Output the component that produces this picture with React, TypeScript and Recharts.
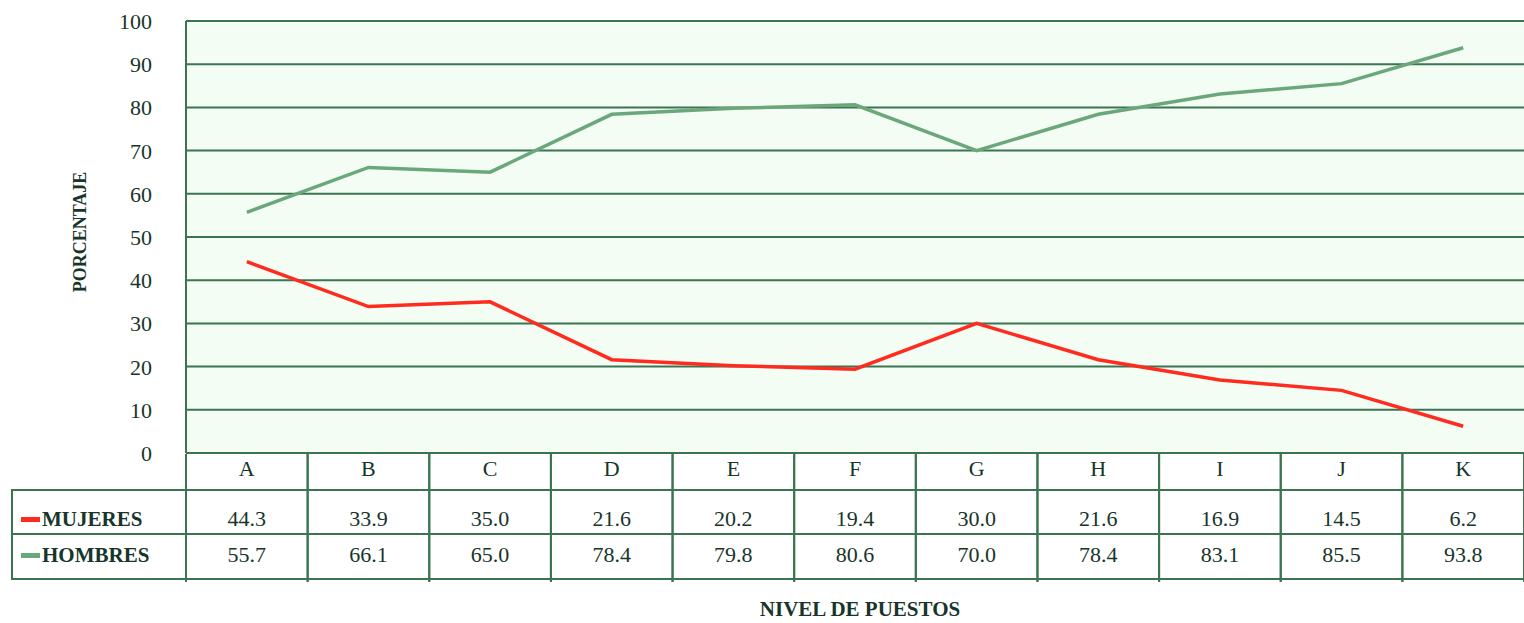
import React from 'react';
import { LineChart, Line, XAxis, YAxis, CartesianGrid } from 'recharts';

const categories = ['A', 'B', 'C', 'D', 'E', 'F', 'G', 'H', 'I', 'J', 'K'];
const mujeres = [44.3, 33.9, 35.0, 21.6, 20.2, 19.4, 30.0, 21.6, 16.9, 14.5, 6.2];
const hombres = [55.7, 66.1, 65.0, 78.4, 79.8, 80.6, 70.0, 78.4, 83.1, 85.5, 93.8];
const yTicks = [0, 10, 20, 30, 40, 50, 60, 70, 80, 90, 100];
const seriesNames = ['MUJERES', 'HOMBRES'];

const data = categories.map((c, i) => ({ cat: c, mujeres: mujeres[i], hombres: hombres[i] }));

const W = 1524;
const H = 623;
const LEFT = 186;
const TOP = 21;
const BOTTOM = 453;
const PLOT_W = W - LEFT;
const CW = PLOT_W / categories.length;
const ROW0 = 454;
const ROW1 = 490;
const ROW2 = 534;
const ROW3 = 579;
const GRID = '#3a7550';
const TEXT = '#17352a';
const RED = '#ff2b1e';
const GREEN = '#6ca77c';
const FONT = 'Liberation Serif, Times New Roman, serif';
const FS = 22;

function TableTick(props: any) {
  const { x, payload } = props;
  const idx = payload && payload.index != null ? payload.index : props.index;
  const l = x - CW / 2;
  const r = x + CW / 2;
  const lineProps = { stroke: GRID, strokeWidth: 2 };
  const ts = { fontFamily: FONT };
  return (
    <g>
      <line x1={l} y1={ROW0} x2={l} y2={ROW3 + 3} {...lineProps} />
      <line x1={r} y1={ROW0} x2={r} y2={ROW3 + 3} {...lineProps} />
      <line x1={l} y1={ROW1} x2={r} y2={ROW1} {...lineProps} />
      <line x1={l} y1={ROW2} x2={r} y2={ROW2} {...lineProps} />
      <line x1={l} y1={ROW3} x2={r} y2={ROW3} {...lineProps} />
      <text x={x} y={476} textAnchor="middle" style={ts} fontSize={FS} fill={TEXT}>
        {payload.value}
      </text>
      <text x={x} y={526} textAnchor="middle" style={ts} fontSize={FS} fill={TEXT}>
        {mujeres[idx].toFixed(1)}
      </text>
      <text x={x} y={562} textAnchor="middle" style={ts} fontSize={FS} fill={TEXT}>
        {hombres[idx].toFixed(1)}
      </text>
      {idx === 0 && (
        <g>
          <rect x={12} y={ROW1} width={LEFT - 12} height={ROW3 - ROW1} fill="none" {...lineProps} />
          <line x1={12} y1={ROW2} x2={LEFT} y2={ROW2} {...lineProps} />
          <rect x={21} y={517} width={19} height={5} fill={RED} />
          <rect x={21} y={553} width={19} height={5} fill={GREEN} />
          <text x={42} y={526} style={ts} fontSize={21} fontWeight="bold" fill={TEXT}>
            {seriesNames[0]}
          </text>
          <text x={42} y={562} style={ts} fontSize={21} fontWeight="bold" fill={TEXT}>
            {seriesNames[1]}
          </text>
        </g>
      )}
    </g>
  );
}

function YTick(props: any) {
  const { y, payload } = props;
  return (
    <text x={152} y={y + 1} dy={7} textAnchor="end" style={{ fontFamily: FONT }} fontSize={FS} fill={TEXT}>
      {payload.value}
    </text>
  );
}

function YLabel() {
  return (
    <text
      x={80}
      y={232}
      transform="rotate(-90, 80, 232)"
      textAnchor="middle"
      dominantBaseline="central"
      style={{ fontFamily: FONT }}
      fontSize={18}
      fontWeight="bold"
      fill={TEXT}
    >
      PORCENTAJE
    </text>
  );
}

function XLabel() {
  return (
    <text
      x={860}
      y={616}
      textAnchor="middle"
      style={{ fontFamily: FONT }}
      fontSize={21}
      fontWeight="bold"
      fill={TEXT}
    >
      NIVEL DE PUESTOS
    </text>
  );
}

export default function App() {
  return (
    <div style={{ position: 'absolute', left: 0, top: 0, width: W, height: H, background: '#fff' }}>
      <LineChart
        width={W}
        height={H}
        data={data}
        margin={{ top: TOP, right: 0, left: 0, bottom: 0 }}
      >
        <CartesianGrid
          vertical={false}
          stroke={GRID}
          strokeWidth={2}
          fill="#f3fdf4"
          fillOpacity={1}
        />
        <XAxis
          dataKey="cat"
          interval={0}
          padding={{ left: CW / 2, right: CW / 2 }}
          axisLine={false}
          tickLine={false}
          height={H - BOTTOM}
          tick={<TableTick />}
          label={<XLabel />}
        />
        <YAxis
          width={LEFT}
          domain={[0, 100]}
          ticks={yTicks}
          interval={0}
          axisLine={{ stroke: GRID, strokeWidth: 2 }}
          tickLine={false}
          tick={<YTick />}
          label={<YLabel />}
        />
        <Line
          type="linear"
          dataKey="hombres"
          stroke={GREEN}
          strokeWidth={3.5}
          dot={false}
          isAnimationActive={false}
        />
        <Line
          type="linear"
          dataKey="mujeres"
          stroke={RED}
          strokeWidth={3.5}
          dot={false}
          isAnimationActive={false}
        />
      </LineChart>
    </div>
  );
}
